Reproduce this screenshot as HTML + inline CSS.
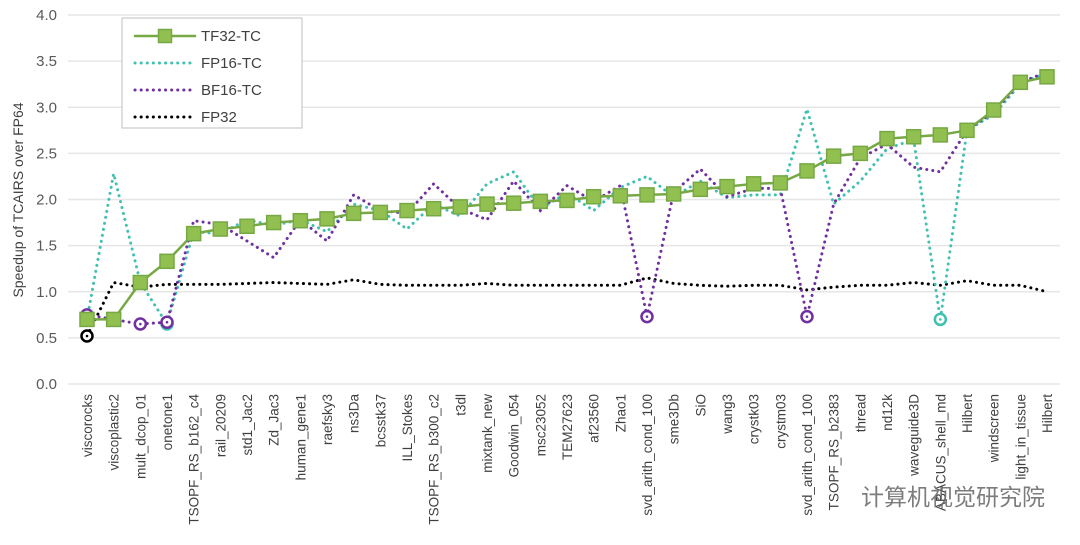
<!DOCTYPE html>
<html><head><meta charset="utf-8"><style>
body{margin:0;background:#fff;}
svg{display:block;font-family:"Liberation Sans","Noto Sans CJK SC",sans-serif;}
</style></head><body>
<svg id="c" width="1080" height="545"></svg>
<script>
const categories=["viscorocks","viscoplastic2","mult_dcop_01","onetone1","TSOPF_RS_b162_c4","rail_20209","std1_Jac2","Zd_Jac3","human_gene1","raefsky3","ns3Da","bcsstk37","ILL_Stokes","TSOPF_RS_b300_c2","t3dl","mixtank_new","Goodwin_054","msc23052","TEM27623","af23560","Zhao1","svd_arith_cond_100","sme3Db","SiO","wang3","crystk03","crystm03","svd_arith_cond_100","TSOPF_RS_b2383","thread","nd12k","waveguide3D","ABACUS_shell_md","Hilbert","windscreen","light_in_tissue","Hilbert"];
const tf32=[0.7,0.7,1.1,1.33,1.63,1.68,1.71,1.75,1.77,1.79,1.85,1.86,1.88,1.90,1.92,1.95,1.96,1.98,1.99,2.03,2.04,2.05,2.06,2.11,2.14,2.17,2.18,2.31,2.47,2.50,2.66,2.68,2.70,2.75,2.97,3.27,3.33];
const fp16=[0.7,2.28,1.1,0.65,1.65,1.63,1.78,1.72,1.78,1.65,1.95,1.88,1.68,1.95,1.82,2.17,2.3,1.9,2.07,1.88,2.13,2.25,2.03,2.2,2.02,2.05,2.05,2.98,1.95,2.2,2.55,2.65,0.7,2.75,2.92,3.25,3.38];
const bf16=[0.75,0.7,0.65,0.67,1.77,1.73,1.55,1.37,1.78,1.55,2.05,1.88,1.85,2.17,1.9,1.78,2.2,1.88,2.15,1.98,2.15,0.73,2.08,2.33,2.03,2.12,2.12,0.73,1.95,2.45,2.6,2.35,2.3,2.75,2.95,3.27,3.38];
const fp32=[0.52,1.1,1.05,1.08,1.08,1.08,1.09,1.1,1.09,1.08,1.13,1.08,1.07,1.07,1.07,1.09,1.07,1.07,1.07,1.07,1.07,1.15,1.09,1.07,1.06,1.07,1.07,1.02,1.05,1.07,1.07,1.1,1.07,1.12,1.07,1.07,1.0];
const yTicks=["0.0","0.5","1.0","1.5","2.0","2.5","3.0","3.5","4.0"];
const svg=document.getElementById('c');const NS="http://www.w3.org/2000/svg";
const X0=87,X1=1047,Y0=384,Y1=15,L=68,R=1060;
const xs=i=>X0+(X1-X0)*i/(categories.length-1);
const ys=v=>Y0-(Y0-Y1)*v/4;
function mk(t,a,p){const e=document.createElementNS(NS,t);for(const k in a)e.setAttribute(k,a[k]);(p||svg).appendChild(e);return e;}
yTicks.forEach(t=>{const y=ys(parseFloat(t));
const g=mk('line',{x1:L,x2:R,y1:y,y2:y,stroke:'#e6e6e6','stroke-width':1.5});


const tx=mk('text',{x:57,y:y+5,'text-anchor':'end','font-size':15,fill:'#595959'});tx.textContent=t;

});
const yt=mk('text',{transform:'translate(23,200) rotate(-90)','text-anchor':'middle','font-size':14,fill:'#404040'});yt.textContent='Speedup of TCAIRS over FP64';


categories.forEach((c,i)=>{const tx=mk('text',{transform:`translate(${xs(i)+5},394) rotate(-90)`,'text-anchor':'end','font-size':13.5,fill:'#404040'});tx.textContent=c;

});
function dotted(arr,color,name){const pts=arr.map((v,i)=>xs(i)+','+ys(v)).join(' ');
const p=mk('polyline',{points:pts,fill:'none',stroke:color,'stroke-width':3,'stroke-dasharray':'0.1 6','stroke-linecap':'round'});


arr.forEach((v,i)=>{if(v<0.8){const c=mk('circle',{cx:xs(i),cy:ys(v),r:5.5,fill:'#fff',stroke:color,'stroke-width':2.5});


mk('circle',{cx:xs(i),cy:ys(v),r:1.3,fill:color});}});}
dotted(fp32,'#000','fp32');
dotted(fp16,'#40c0b0','fp16');
dotted(bf16,'#7030a0','bf16');
const tl=mk('polyline',{points:tf32.map((v,i)=>xs(i)+','+ys(v)).join(' '),fill:'none',stroke:'#76a844','stroke-width':2.5});


tf32.forEach((v,i)=>{const r=mk('rect',{x:xs(i)-7,y:ys(v)-7,width:14,height:14,fill:'#92c050',stroke:'#76a844','stroke-width':1.5});

});
const lg=mk('g',{});
mk('rect',{x:122,y:18,width:180,height:110,fill:'#fff',stroke:'#bfbfbf'},lg);
const leg=[["TF32-TC","#76a844",0],["FP16-TC","#40c0b0",1],["BF16-TC","#7030a0",1],["FP32","#000",1]];
leg.forEach((l,i)=>{const y=36+i*27;
mk('line',{x1:135,x2:195,y1:y,y2:y,stroke:l[1],'stroke-width':l[2]?3:2.5,'stroke-dasharray':l[2]?'0.1 6':'','stroke-linecap':'round'},lg);
if(!l[2])mk('rect',{x:158.5,y:y-6.5,width:13,height:13,fill:'#92c050',stroke:'#76a844','stroke-width':1.5},lg);
const t=mk('text',{x:201,y:y+5,'font-size':15,fill:'#404040'},lg);t.textContent=l[0];

});
const w=mk('text',{x:1045,y:505,'text-anchor':'end','font-size':23,fill:'#666','opacity':0.85});w.textContent='计算机视觉研究院';


</script></body></html>
